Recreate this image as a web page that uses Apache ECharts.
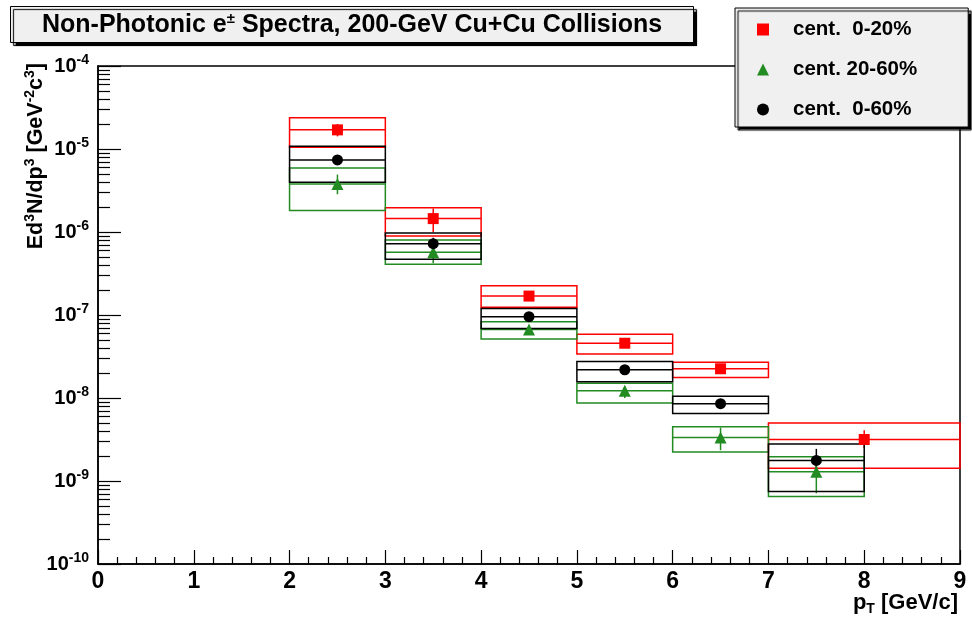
<!DOCTYPE html>
<html><head><meta charset="utf-8">
<script src="https://cdn.jsdelivr.net/npm/echarts@6/dist/echarts.min.js"></script>
<style>html,body{margin:0;padding:0;background:#fff}#c{width:972px;height:620px}</style>
</head><body><div id="c"></div>
<script>
const FONT = '"Liberation Sans", Arial, Helvetica, sans-serif';

const seriesNames = ['cent.  0-20%', 'cent. 20-60%', 'cent.  0-60%'];
const seriesColors = ['#ff0000', '#228b22', '#000000'];
const yTickExponents = [-10, -9, -8, -7, -6, -5, -4];
const xTickLabels = [0, 1, 2, 3, 4, 5, 6, 7, 8, 9];

// cent. 0-20% (red)
const redPt = [2.5, 3.5, 4.5, 5.5, 6.5, 8];
const redHalfWidth = [0.5, 0.5, 0.5, 0.5, 0.5, 1];
const redVal = [1.70e-5, 1.45e-6, 1.69e-7, 4.57e-8, 2.25e-8, 3.16e-9];
const redSysHi = [2.38e-5, 1.96e-6, 2.25e-7, 5.86e-8, 2.70e-8, 5.0e-9];
const redSysLo = [1.05e-5, 8.95e-7, 1.24e-7, 3.38e-8, 1.77e-8, 1.42e-9];
const redStatHi = [2.0e-5, 1.92e-6, 1.80e-7, 4.80e-8, 2.35e-8, 4.1e-9];
const redStatLo = [1.42e-5, 9.9e-7, 1.58e-7, 4.35e-8, 2.15e-8, 2.5e-9];

// cent. 20-60% (green)
const greenPt = [2.5, 3.5, 4.5, 5.5, 6.5, 7.5];
const greenHalfWidth = [0.5, 0.5, 0.5, 0.5, 0.5, 0.5];
const greenVal = [3.8e-6, 5.7e-7, 6.7e-8, 1.22e-8, 3.34e-9, 1.29e-9];
const greenSysHi = [5.9e-6, 8.0e-7, 8.3e-8, 1.51e-8, 4.49e-9, 1.96e-9];
const greenSysLo = [1.82e-6, 4.1e-7, 5.15e-8, 8.7e-9, 2.23e-9, 6.5e-10];
const greenStatHi = [4.92e-6, 7.5e-7, 7.4e-8, 1.38e-8, 4.4e-9, 1.9e-9];
const greenStatLo = [2.85e-6, 4.2e-7, 6.0e-8, 1.0e-8, 2.35e-9, 7.1e-10];

// cent. 0-60% (black)
const blackPt = [2.5, 3.5, 4.5, 5.5, 6.5, 7.5];
const blackHalfWidth = [0.5, 0.5, 0.5, 0.5, 0.5, 0.5];
const blackVal = [7.38e-6, 7.24e-7, 9.55e-8, 2.19e-8, 8.55e-9, 1.77e-9];
const blackSysHi = [1.08e-5, 9.7e-7, 1.2e-7, 2.75e-8, 1.05e-8, 2.8e-9];
const blackSysLo = [3.98e-6, 4.7e-7, 6.86e-8, 1.57e-8, 6.5e-9, 7.45e-10];
const blackStatHi = [8.0e-6, 8.5e-7, 1.0e-7, 2.3e-8, 8.9e-9, 2.44e-9];
const blackStatLo = [6.8e-6, 6.4e-7, 9.1e-8, 2.08e-8, 8.2e-9, 1.25e-9];

const majorTicks = yTickExponents.map(e => Math.pow(10, e));
const minorTicks = [];
yTickExponents.slice(0, -1).forEach(e => { for (let m = 2; m <= 9; m++) minorTicks.push(m * Math.pow(10, e)); });

function boxSeries(name, pt, hw, val, sLo, sHi, tLo, tHi, color, z) {
  return {
    type: 'custom', name: name + ' sys', z: z,
    encode: { x: 0, y: 1 },
    data: pt.map((x, i) => [x, val[i], hw[i], sLo[i], sHi[i], tLo[i], tHi[i]]),
    renderItem: function (params, api) {
      const x = api.value(0), v = api.value(1), w = api.value(2);
      const p1 = api.coord([x - w, api.value(4)]);
      const p2 = api.coord([x + w, api.value(3)]);
      const pl = api.coord([x - w, v]);
      const pr = api.coord([x + w, v]);
      const ps1 = api.coord([x, api.value(6)]);
      const ps2 = api.coord([x, api.value(5)]);
      const ls = { stroke: color, lineWidth: 1.5, fill: null };
      return {
        type: 'group', children: [
          { type: 'rect', shape: { x: p1[0], y: p1[1], width: p2[0] - p1[0], height: p2[1] - p1[1] }, style: ls },
          { type: 'line', shape: { x1: pl[0], y1: pl[1], x2: pr[0], y2: pr[1] }, style: ls },
          { type: 'line', shape: { x1: ps1[0], y1: ps1[1], x2: ps2[0], y2: ps2[1] }, style: ls }
        ]
      };
    }
  };
}

function markerSeries(name, pt, val, symbol, size, color) {
  return {
    type: 'scatter', name: name, z: 10,
    symbol: symbol, symbolSize: size,
    itemStyle: { color: color, opacity: 1 },
    data: pt.map((x, i) => [x, val[i]])
  };
}

const chart = echarts.init(document.getElementById('c'), null, { renderer: 'canvas' });
chart.setOption({
  backgroundColor: '#ffffff',
  animation: false,
  textStyle: { fontFamily: FONT },
  title: {
    left: 10, top: 5,
    text: '{a|Non-Photonic e}{s|±}{a| Spectra, 200-GeV Cu+Cu Collisions}',
    padding: [5, 32, 5, 32],
    backgroundColor: '#f0f0f0', borderColor: '#000', borderWidth: 1,
    shadowColor: '#000', shadowBlur: 1, shadowOffsetX: 3, shadowOffsetY: 3,
    textStyle: {
      rich: {
        a: { fontFamily: FONT, fontWeight: 'bold', fontSize: 25, color: '#000', lineHeight: 30 },
        s: { fontFamily: FONT, fontWeight: 'bold', fontSize: 15, color: '#000', padding: [0, 0, 12, 0] }
      }
    }
  },
  legend: {
    orient: 'vertical', left: 735, top: 8,
    data: seriesNames.map((n, i) => ({ name: n, icon: ['rect', 'triangle', 'circle'][i] })),
    itemWidth: 12, itemHeight: 12, itemGap: 19,
    padding: [11, 51, 7, 22],
    backgroundColor: '#f0f0f0', borderColor: '#000', borderWidth: 1,
    shadowColor: '#000', shadowBlur: 1, shadowOffsetX: 3, shadowOffsetY: 3,
    textStyle: { fontFamily: FONT, fontWeight: 'bold', fontSize: 20.5, color: '#000', lineHeight: 16, padding: [0, 0, 0, 19] },
    selectedMode: false
  },
  grid: { left: 98, right: 12, top: 66, bottom: 56, show: true, borderColor: '#000', borderWidth: 1.5, backgroundColor: '#fff' },
  xAxis: {
    type: 'value', min: 0, max: 9, interval: 1,
    axisLine: { onZero: false, lineStyle: { color: '#000', width: 1.5 } },
    axisTick: { inside: true, length: 14, lineStyle: { color: '#000', width: 1.2 } },
    minorTick: { show: true, splitNumber: 5, length: 7, lineStyle: { color: '#000', width: 1.2 } },
    splitLine: { show: false },
    axisLabel: { margin: 6, fontFamily: FONT, fontWeight: 'bold', fontSize: 23, color: '#000',
      formatter: v => String(xTickLabels[Math.round(v)]) }
  },
  yAxis: [{
    type: 'log', logBase: 10, min: 1e-10, max: 1e-4,
    axisLine: { lineStyle: { color: '#000', width: 1.5 } },
    axisTick: { inside: true, length: 23, customValues: majorTicks, lineStyle: { color: '#000', width: 1.2 } },
    splitLine: { show: false },
    axisLabel: {
      customValues: majorTicks, margin: 9,
      formatter: v => '{b|10}{s|' + Math.round(Math.log10(v)) + '}',
      rich: {
        b: { fontFamily: FONT, fontWeight: 'bold', fontSize: 20, color: '#000' },
        s: { fontFamily: FONT, fontWeight: 'bold', fontSize: 14, color: '#000', padding: [0, 0, 12, 0] }
      }
    }
  }, {
    type: 'log', logBase: 10, min: 1e-10, max: 1e-4, position: 'left',
    axisLine: { show: false },
    axisTick: { inside: true, length: 12, customValues: minorTicks, lineStyle: { color: '#000', width: 1.2 } },
    axisLabel: { show: false },
    splitLine: { show: false }
  }],
  graphic: [
    {
      type: 'text', x: 36, y: 63, rotation: Math.PI / 2,
      style: {
        text: '{b|Ed}{s|3}{b|N/dp}{s|3}{b| [GeV}{s|-2}{b|c}{s|3}{b|]}',
        align: 'right', verticalAlign: 'middle',
        rich: {
          b: { fontFamily: FONT, fontWeight: 'bold', fontSize: 21.5, fill: '#000' },
          s: { fontFamily: FONT, fontWeight: 'bold', fontSize: 14, fill: '#000', padding: [0, 0, 11, 0] }
        }
      }
    },
    {
      type: 'text', x: 958, y: 603,
      style: {
        text: '{b|p}{t|T}{b| [GeV/c]}',
        align: 'right', verticalAlign: 'middle',
        rich: {
          b: { fontFamily: FONT, fontWeight: 'bold', fontSize: 22, fill: '#000' },
          t: { fontFamily: FONT, fontWeight: 'bold', fontSize: 14, fill: '#000', padding: [13, 0, 0, 0] }
        }
      }
    }
  ],
  series: [
    boxSeries(seriesNames[0], redPt, redHalfWidth, redVal, redSysLo, redSysHi, redStatLo, redStatHi, seriesColors[0], 3),
    boxSeries(seriesNames[1], greenPt, greenHalfWidth, greenVal, greenSysLo, greenSysHi, greenStatLo, greenStatHi, seriesColors[1], 4),
    boxSeries(seriesNames[2], blackPt, blackHalfWidth, blackVal, blackSysLo, blackSysHi, blackStatLo, blackStatHi, seriesColors[2], 5),
    markerSeries(seriesNames[0], redPt, redVal, 'rect', 11, seriesColors[0]),
    markerSeries(seriesNames[1], greenPt, greenVal, 'triangle', 12, seriesColors[1]),
    markerSeries(seriesNames[2], blackPt, blackVal, 'circle', 11, seriesColors[2])
  ]
});
</script></body></html>
